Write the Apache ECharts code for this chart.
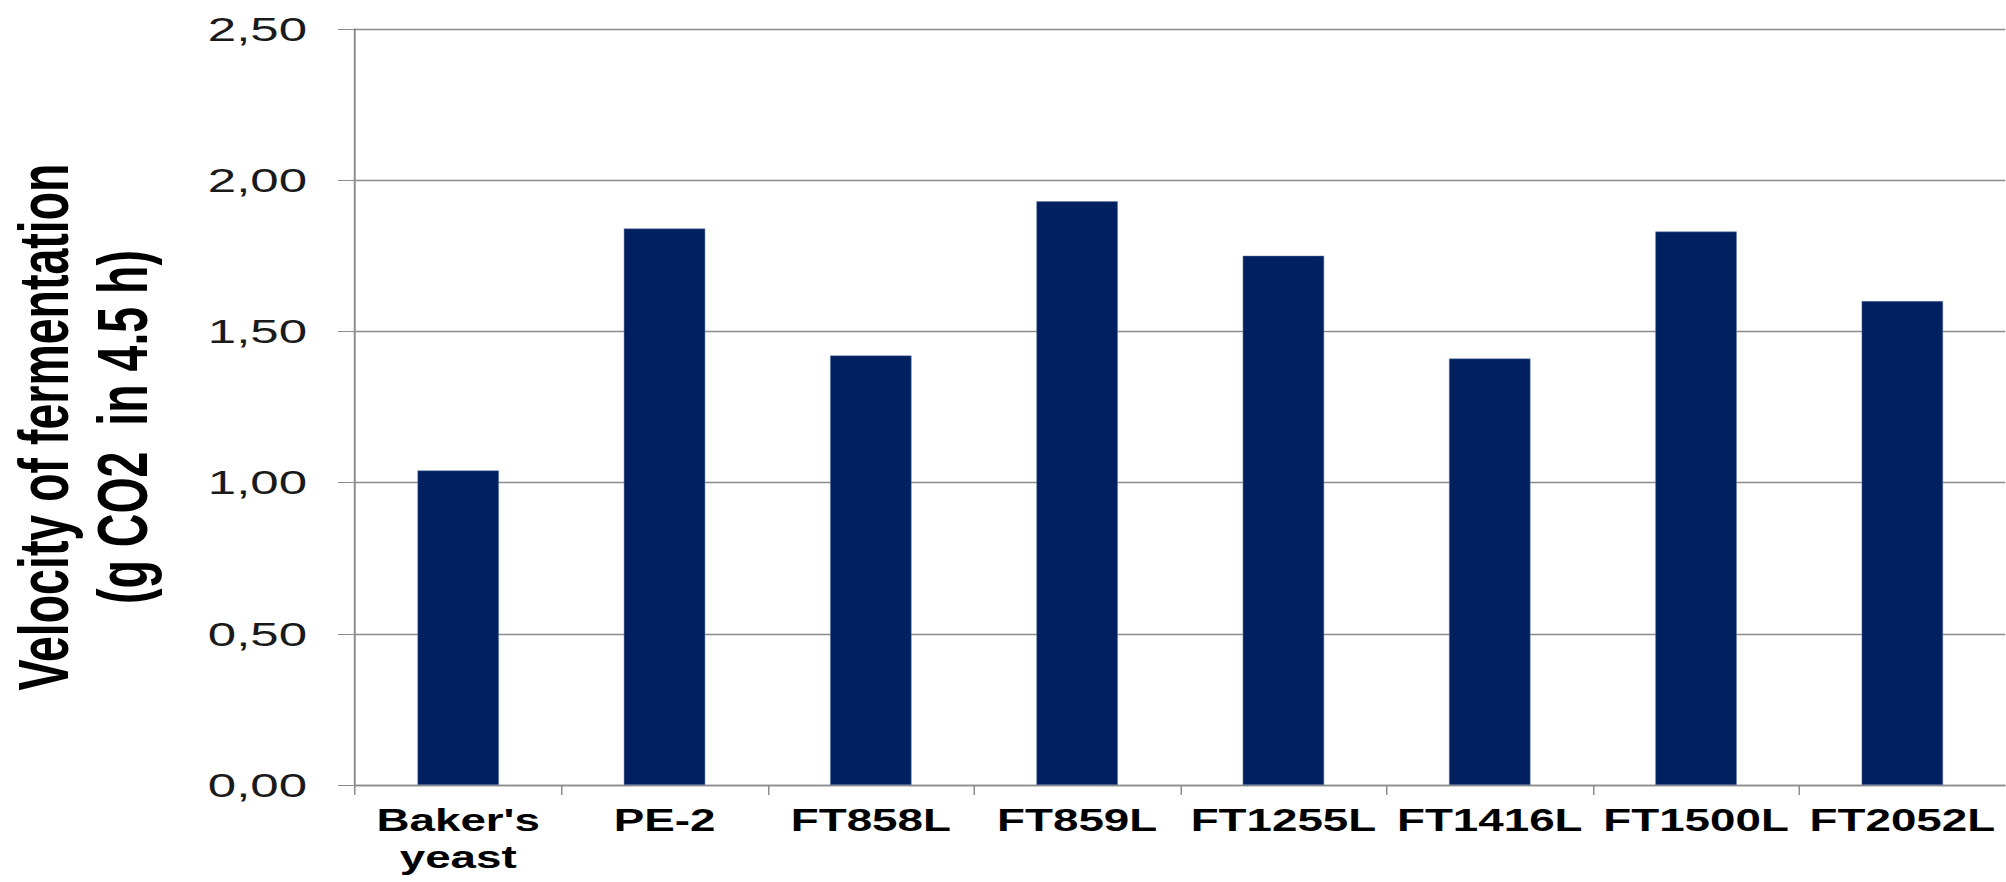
<!DOCTYPE html>
<html>
<head>
<meta charset="utf-8">
<script src="https://cdn.jsdelivr.net/npm/echarts@6/dist/echarts.min.js"></script>
<style>
html,body{margin:0;padding:0;background:#fff;overflow:hidden;width:2006px;height:882px;}
#chart{width:1337.33px;height:882px;transform:scaleX(1.5);transform-origin:0 0;}
</style>
</head>
<body>
<div id="chart"></div>
<script>
var categories = ["Baker's\nyeast", "PE-2", "FT858L", "FT859L", "FT1255L", "FT1416L", "FT1500L", "FT2052L"];
var velocity = [1.04, 1.84, 1.42, 1.93, 1.75, 1.41, 1.83, 1.60];
var yTickValues = [0, 0.5, 1, 1.5, 2, 2.5];
var yTickLabels = ['0,00', '0,50', '1,00', '1,50', '2,00', '2,50'];
var yTitle = 'Velocity of fermentation\n(g CO2  in 4.5 h)';

var chart = echarts.init(document.getElementById('chart'), null, {renderer: 'svg'});
chart.setOption({
  animation: false,
  backgroundColor: '#ffffff',
  grid: {left: 236.7, right: 0, top: 29, bottom: 97, containLabel: false, outerBoundsMode: 'none'},
  xAxis: {
    type: 'category',
    data: categories,
    boundaryGap: true,
    axisLine: {show: true, lineStyle: {color: '#8c8c8c', width: 1.3}},
    axisTick: {show: true, length: 10, interval: 0, lineStyle: {color: '#8c8c8c', width: 1}},
    axisLabel: {
      interval: 0, margin: 17, color: '#000',
      fontFamily: "'Liberation Sans', Arial, sans-serif",
      fontWeight: 'bold', fontSize: 30.5, lineHeight: 37,
      hideOverlap: false
    },
    splitLine: {show: false}
  },
  yAxis: {
    type: 'value',
    min: 0, max: 2.5, interval: 0.5,
    name: yTitle,
    nameLocation: 'middle',
    nameRotate: 90,
    nameGap: 128,
    nameTextStyle: {
      fontFamily: "'Liberation Sans', Arial, sans-serif",
      fontWeight: 'bold', fontSize: 46.5, lineHeight: 53, color: '#000',
      padding: [0, 40, 0, 0]
    },
    axisLine: {show: true, lineStyle: {color: '#8c8c8c', width: 1.3}},
    axisTick: {show: true, length: 11.3, inside: false, lineStyle: {color: '#8c8c8c', width: 1}},
    axisLabel: {
      margin: 32, color: '#1a1a1a',
      fontFamily: "'Liberation Sans', Arial, sans-serif",
      fontSize: 34,
      formatter: function (v) {
        var i = yTickValues.indexOf(Math.round(v * 100) / 100);
        return i >= 0 ? yTickLabels[i] : '';
      }
    },
    splitLine: {show: true, lineStyle: {color: '#8c8c8c', width: 1.3}}
  },
  series: [{
    type: 'bar',
    data: velocity,
    barWidth: '39.5%',
    itemStyle: {color: '#002060', borderColor: '#6b7fa8', borderWidth: 0.4}
  }]
});
</script>
</body>
</html>
